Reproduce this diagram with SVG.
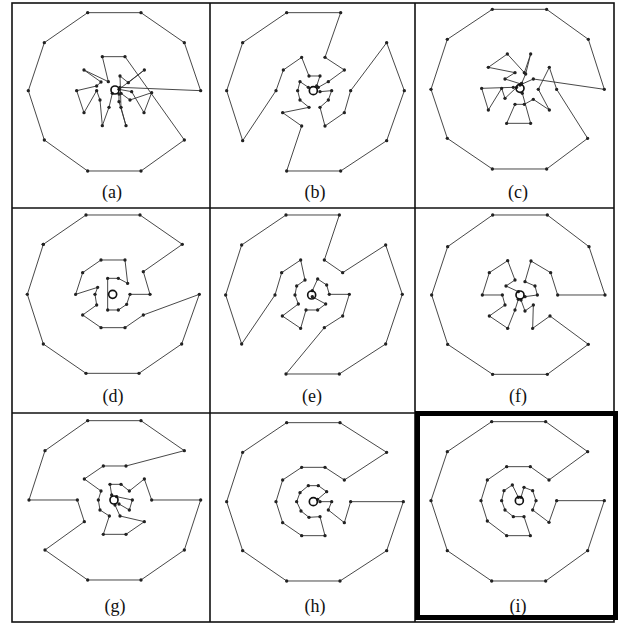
<svg xmlns="http://www.w3.org/2000/svg" width="618" height="624" viewBox="0 0 618 624">
<defs>
<marker id="dot" markerWidth="12" markerHeight="12" refX="6" refY="6" markerUnits="userSpaceOnUse"><circle cx="6" cy="6" r="5" fill="#222"/></marker>
</defs>
<style>
.p{fill:none;stroke:#333;stroke-width:2.7;stroke-linejoin:round;marker-start:url(#dot);marker-mid:url(#dot);marker-end:url(#dot)}
.c{fill:none;stroke:#111;stroke-width:5}
.g{fill:none;stroke:#111;stroke-width:1.6}
.t{font-family:"Liberation Serif","Times New Roman",serif;font-size:18px;fill:#111;text-anchor:middle}
</style>
<rect width="618" height="624" fill="#fff"/>
<g id="grid">
<rect class="g" x="12" y="3" width="602" height="619"/>
<line class="g" x1="210" y1="3" x2="210" y2="622"/>
<line class="g" x1="415" y1="3" x2="415" y2="622"/>
<line class="g" x1="12" y1="208" x2="614" y2="208"/>
<line class="g" x1="12" y1="413" x2="614" y2="413"/>
<rect x="417.5" y="413.5" width="198" height="204" fill="none" stroke="#000" stroke-width="5"/>
</g>
<g id="panel-a" transform="translate(15,0) scale(0.33333)">
<polyline class="p" points="315,262 557,272 508,128 378,38 218,38 88,128 40,272 88,420 218,513 378,513 508,420 330,170 262,170 280,245 207,210 258,246 245,258 185,272 207,338 245,272 255,300 262,377 282,322 292,280"/>
<polyline class="p" points="312,282 312,305 333,377 318,322 315,228 340,248 388,210 312,268 350,275 387,338 410,278 345,300 318,280"/>
<circle class="c" cx="300" cy="270" r="12"/>
</g>
<g id="panel-b" transform="translate(205,0) scale(0.33333)">
<polyline class="p" points="340,262 370,245 418,210 360,172 407,38 245,38 113,128 65,272 113,422 213,272 235,210 290,172 312,228 345,228 335,258"/>
<polyline class="p" points="345,275 380,272 370,300 345,322 360,378 418,338 437,272 545,128 598,272 545,422 407,513 245,513 290,378 233,338 312,322 285,300 278,272 285,245 310,262"/>
<circle class="c" cx="325" cy="272" r="12"/>
</g>
<g id="panel-c" transform="translate(405,0) scale(0.33333)">
<polyline class="p" points="345,255 385,237 598,268 550,118 425,28 262,28 127,118 78,268 127,415 262,507 425,507 548,415 455,268 433,202 400,268 433,330 385,298 358,313 330,313 305,370 377,370 352,280"/>
<polyline class="p" points="335,262 300,295 290,265 250,330 230,265 325,262"/>
<polyline class="p" points="348,252 300,237 330,218 250,202 307,162 358,218 377,162 362,222 350,250"/>
<circle class="c" cx="345" cy="265" r="12"/>
</g>
<g id="panel-d" transform="translate(15,200) scale(0.33333)">
<polygon class="p" points="85,133 213,45 375,45 502,133 385,215 405,283 345,283 335,313 310,330 278,330 278,235 310,235 338,250 330,180 258,180 203,218 182,283 248,262 240,283 245,315 203,345 258,383 330,383 385,345 553,283 500,432 372,520 213,520 85,432 37,283"/>
<circle class="c" cx="293" cy="283" r="12"/>
</g>
<g id="panel-e" transform="translate(205,200) scale(0.33333)">
<polyline class="p" points="322,290 362,312 338,330 303,330 287,385 232,348 280,312 270,285 275,258 300,240 287,180 230,218 210,285 110,432 62,285 110,135 243,45 403,45 358,180 413,218 542,135 592,283 542,432 403,522 243,522 358,383 413,348 433,283 373,283 365,255 338,237 322,272"/>
<circle class="c" cx="320" cy="285" r="12"/>
</g>
<g id="panel-f" transform="translate(405,200) scale(0.33333)">
<polyline class="p" points="360,290 397,285 390,258 360,245 378,183 437,218 458,285 600,285 552,140 427,45 263,45 128,140 80,285 128,433 263,523 427,523 550,433 435,348 383,385 385,315 360,333 348,300"/>
<polyline class="p" points="340,275 303,258 330,240 308,182 253,218 232,285 292,285 300,315 253,348 308,385 330,330 340,298"/>
<circle class="c" cx="345" cy="285" r="12"/>
</g>
<g id="panel-g" transform="translate(15,400) scale(0.33333)">
<polyline class="p" points="300,315 315,348 388,365 333,403 265,403 283,348 255,330 250,300 258,273 208,237 265,198 333,198 508,152 378,62 218,62 90,152 42,300 187,300 208,365 90,450 218,540 378,540 508,450 557,300 410,300 388,237 343,273 318,253 285,253 290,285"/>
<polyline class="p" points="305,290 352,300 343,330 312,312"/>
<circle class="c" cx="297" cy="300" r="12"/>
</g>
<g id="panel-h" transform="translate(205,400) scale(0.33333)">
<polyline class="p" points="345,305 380,305 370,330 418,368 437,305 595,305 545,452 405,543 245,543 113,452 65,305 113,157 245,68 405,68 545,157 418,240 360,202 290,202 233,240 213,305 233,368 290,407 360,407 345,350 312,352 288,333 275,305 285,278 310,257 340,257 365,275 338,298"/>
<circle class="c" cx="325" cy="305" r="12"/>
</g>
<g id="panel-i" transform="translate(405,400) scale(0.33333)">
<polyline class="p" points="340,292 322,255 297,272 290,302 300,330 325,350 357,350 376,407 305,407 247,363 228,302 247,240 305,200 376,200 432,240 548,155 422,65 260,65 127,155 78,302 127,452 260,543 422,543 548,452 598,302 455,302 432,367 383,330 393,302 383,272 357,262 348,292"/>
<circle class="c" cx="343" cy="302" r="12"/>
</g>
<g id="labels">
<text class="t" x="112" y="198">(a)</text>
<text class="t" x="315" y="198">(b)</text>
<text class="t" x="518" y="198">(c)</text>
<text class="t" x="113" y="402">(d)</text>
<text class="t" x="312" y="402">(e)</text>
<text class="t" x="518" y="402">(f)</text>
<text class="t" x="115" y="612">(g)</text>
<text class="t" x="315" y="612">(h)</text>
<text class="t" x="518" y="612">(i)</text>
</g>
</svg>
